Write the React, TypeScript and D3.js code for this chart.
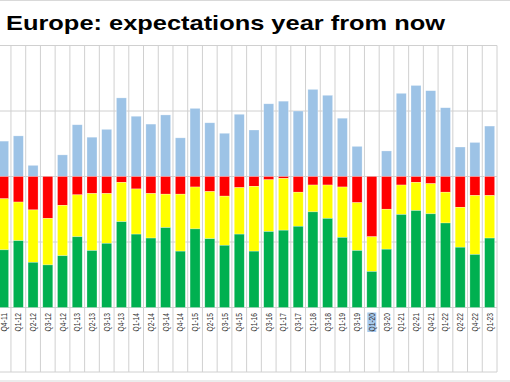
import React from "react";
import * as d3 from "d3";

const categories = [
  "Q4-11", "Q1-12", "Q2-12", "Q3-12", "Q4-12", "Q1-13", "Q2-13", "Q3-13", "Q4-13", "Q1-14",
  "Q2-14", "Q3-14", "Q4-14", "Q1-15", "Q2-15", "Q3-15", "Q4-15", "Q1-16", "Q3-16", "Q1-17",
  "Q3-17", "Q1-18", "Q3-18", "Q1-19", "Q3-19", "Q1-20", "Q3-20", "Q1-21", "Q2-21", "Q4-21",
  "Q1-22", "Q2-22", "Q4-22", "Q1-23",
];
const better = [
  27, 31, 8.5, 0, 16.5, 39.5, 30, 36, 60, 46,
  40, 47, 29.5, 52, 41, 33, 47.5, 35.5, 55.5, 57.5,
  50, 66.5, 62, 44.5, 23, 0, 19.5, 63.5, 69.5, 65.5,
  52.5, 22.5, 26, 38.5,
];
const worse = [
  17, 19.5, 25.5, 32, 22, 14, 13, 13, 4.5, 9.5,
  13, 13.5, 13.5, 8, 11.5, 15, 8.5, 7.5, 2.5, 1.5,
  12, 6.5, 6.5, 8, 20, 46, 25, 6.5, 4.5, 5.5,
  12, 23.5, 14.5, 14.5,
];
const same = [
  39, 29.5, 40, 35.5, 38.5, 32, 43.5, 38, 30, 34.5,
  34, 25.5, 43.5, 32, 36, 37.5, 35.5, 49.5, 39.5, 39.5,
  26, 20.5, 25.5, 38.5, 36.5, 26.5, 30.5, 22.5, 21.5, 23,
  23.5, 30.5, 45, 32.5,
];
const improve = [
  44, 51, 34.5, 32.5, 39.5, 54, 43.5, 49, 65.5, 56,
  53, 61, 43, 60, 52.5, 47.5, 56, 43, 58, 59,
  62, 73, 68, 53.5, 43.5, 27.5, 44.5, 71, 74, 71.5,
  64.5, 46, 40.5, 53,
];
const yTicks = [100, 50, 0, -50, -100];
const title = "Europe: expectations year from now";
const highlighted = "Q1-20";

const COLORS = { blue: "#9DC3E6", red: "#FF0000", yellow: "#FFFF00", green: "#00B050" };

export default function App() {
  const W = 510;
  const H = 382;
  const left = -3.76;
  const right = 497;
  const top = 45.5;
  const bottom = 307.5;
  const axisBottom = 372;

  const x = d3.scaleBand<string>().domain(categories).range([left, right]).paddingInner(0.32).paddingOuter(0.16);
  const y = d3.scaleLinear().domain([-100, 100]).range([bottom, top]);
  const step = x.step();
  const bw = x.bandwidth();

  const boundaries = d3.range(1, categories.length + 1).map((k) => left + k * step);

  const segs: { key: string; x: number; y0: number; y1: number; color: string }[] = [];
  categories.forEach((c, i) => {
    const bx = x(c)!;
    segs.push({ key: c + "b", x: bx, y0: 0, y1: better[i], color: COLORS.blue });
    const r = -worse[i];
    const s = r - same[i];
    segs.push({ key: c + "r", x: bx, y0: 0, y1: r, color: COLORS.red });
    segs.push({ key: c + "y", x: bx, y0: r, y1: s, color: COLORS.yellow });
    segs.push({ key: c + "g", x: bx, y0: s, y1: -100, color: COLORS.green });
  });

  const grid = "#D0D0D0";

  return (
    <div style={{ position: "fixed", left: 0, top: 0 }}>
      <svg width={W} height={H} style={{ display: "block", background: "#fff" }}>
        <line x1={0} x2={W} y1={0.5} y2={0.5} stroke="#D9D9D9" />
        <text
          x={6}
          y={30}
          fontFamily="Liberation Sans, Arial, sans-serif"
          fontWeight="bold"
          fontSize={21}
          fill="#000"
          textLength={439}
          lengthAdjust="spacingAndGlyphs"
        >
          {title}
        </text>
        {yTicks.map((t) => (
          <line key={"h" + t} x1={left} x2={right} y1={y(t)} y2={y(t)} stroke={grid} strokeWidth={1} />
        ))}
        {boundaries.map((bx, i) => (
          <line key={"v" + i} x1={bx} x2={bx} y1={top} y2={axisBottom} stroke={grid} strokeWidth={1} />
        ))}
        {segs.map((s) => {
          const ya = y(Math.max(s.y0, s.y1));
          const yb = y(Math.min(s.y0, s.y1));
          return (
            <rect
              key={s.key}
              x={s.x}
              y={ya}
              width={bw}
              height={Math.max(0, yb - ya)}
              fill={s.color}
              stroke="rgba(255,255,255,0.45)"
              strokeWidth={0.6}
            />
          );
        })}
        <line x1={0} x2={right} y1={axisBottom} y2={axisBottom} stroke={grid} />
        <line x1={0} x2={W} y1={381} y2={381} stroke="#D9D9D9" />
        {categories.map((c) => {
          const cx = x(c)! + bw / 2;
          return (
            <g key={"l" + c}>
              {c === highlighted && (
                <rect x={cx - 4.5} y={312.5} width={9} height={19.5} fill="#A6C8EC" />
              )}
              <text
                transform={`translate(${cx + 3},${313}) rotate(-90)`}
                textAnchor="end"
                fontFamily="Liberation Sans, Arial, sans-serif"
                fontSize={8.6}
                textLength={18.5}
                lengthAdjust="spacingAndGlyphs"
                fill="#333"
              >
                {c}
              </text>
            </g>
          );
        })}
      </svg>
    </div>
  );
}
